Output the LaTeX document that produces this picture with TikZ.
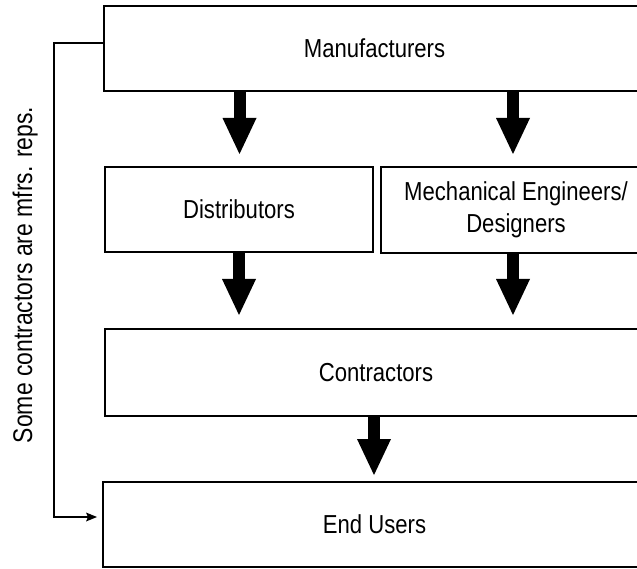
\documentclass[tikz,border=0pt]{standalone}
\usepackage{fontspec}
\setmainfont{Liberation Sans}[FakeStretch=0.85]
\usetikzlibrary{arrows.meta,calc}

\begin{document}
\begin{tikzpicture}[x=1pt,y=-1pt,
  box/.style={draw=black,line width=2pt,fill=white,inner sep=0pt,outer sep=0pt,
    align=center,font=\fontsize{26}{32}\selectfont},
  bigarrow/.style={line width=12pt,
    -{Triangle[width=34pt,length=36pt,line width=0pt]}},
  thinarrow/.style={line width=1.5pt,
    -{Stealth[width=9pt,length=11pt,inset=2pt,line width=0pt]}}]

  % canvas
  \useasboundingbox (0,0) rectangle (637,569);

  % boxes (the right-hand ends run past the page edge)
  \node[box,minimum width=541pt,minimum height=85pt] (man) at (374.5,48.5) {Manufacturers};
  \node[box,minimum width=268pt,minimum height=85pt] (dist) at (239,209.5) {Distributors};
  \node[box,minimum width=270pt,minimum height=86pt] (mech) at (516,210) {Mechanical Engineers/\\Designers};
  \node[box,minimum width=542pt,minimum height=87pt] (con) at (376,372.5) {Contractors};
  \node[box,minimum width=543pt,minimum height=85pt] (end) at (374.5,524.5) {End Users};

  % main flow
  \draw[bigarrow,shorten >=13pt] ([xshift=0.5pt]man.south -| dist.north) -- ([xshift=0.5pt]dist.north);
  \draw[bigarrow,shorten >=13pt] ([xshift=-3pt]man.south -| mech.north) -- ([xshift=-3pt]mech.north);
  \draw[bigarrow,shorten >=14pt] (dist.south) -- (dist.south |- con.north);
  \draw[bigarrow,shorten >=14pt] ([xshift=-3pt]mech.south) -- ([xshift=-3pt]mech.south |- con.north);
  \draw[bigarrow,shorten >=7pt] ([xshift=-2pt]con.south) -- ([xshift=-2pt]con.south |- end.north);

  % direct route from manufacturers to end users
  \coordinate (loopA) at (54,43);
  \coordinate (loopB) at (54,517);
  \draw[thinarrow,shorten >=6pt] ([yshift=5.5pt]man.west) -- (loopA) -- (loopB) -- ([yshift=7.5pt]end.west);
  \node[rotate=90,anchor=base,inner sep=0pt,font=\fontsize{27}{32}\selectfont] (note) at (32,275)
    {Some contractors are mfrs. reps.};
\end{tikzpicture}
\end{document}
